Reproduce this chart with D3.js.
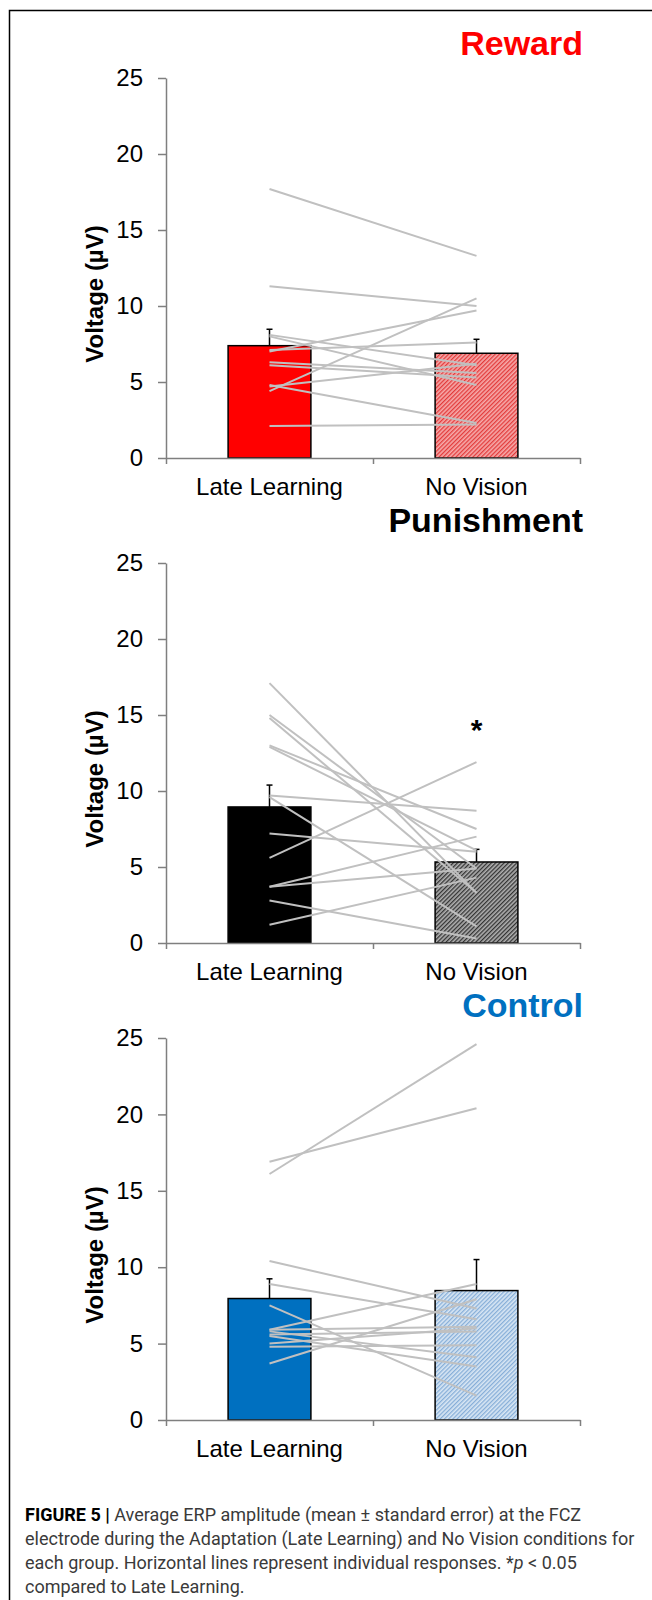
<!DOCTYPE html>
<html>
<head>
<meta charset="utf-8">
<script src="https://cdn.jsdelivr.net/npm/d3@7"></script>
<style>
  body { margin: 0; background: #fff; }
  svg { display: block; }
  .axis path, .axis line { stroke: #7f7f7f; stroke-width: 1.5; }
  .axis text { font-family: "Liberation Sans", Arial, sans-serif; font-size: 24px; fill: #000; }
</style>
</head>
<body>
<script>
// categories and groups
var categories = ["Late Learning", "No Vision"];
var groups = ["Reward", "Punishment", "Control"];
var yTicks = [0, 5, 10, 15, 20, 25];

// group means (uV) and standard errors
var rewardMeans = [7.39, 6.89];
var rewardErrors = [1.08, 0.92];
var punishmentMeans = [8.95, 5.33];
var punishmentErrors = [1.44, 0.83];
var controlMeans = [7.95, 8.47];
var controlErrors = [1.29, 2.03];

// individual responses, Late Learning -> No Vision
var rewardLate     = [17.7, 11.3, 7.0, 4.4, 8.1, 8.0, 7.1, 6.3, 6.1, 4.7, 4.8, 2.1];
var rewardNoVision = [13.3, 10.0, 9.7, 10.5, 6.1, 4.8, 7.6, 5.6, 5.3, 6.2, 2.3, 2.2];
var punishmentLate     = [17.1, 15.0, 14.8, 13.0, 12.9, 9.7, 9.6, 7.2, 5.6, 3.7, 3.7, 2.8, 1.2];
var punishmentNoVision = [3.3, 4.9, 3.3, 7.5, 6.1, 8.7, 1.1, 6.0, 11.9, 7.0, 4.9, 0.3, 4.3];
var controlLate     = [16.1, 16.9, 10.4, 8.9, 7.5, 3.7, 5.9, 5.9, 5.8, 5.6, 5.5, 5.0, 4.8];
var controlNoVision = [24.6, 20.4, 7.3, 6.6, 1.6, 7.9, 8.9, 6.1, 4.1, 5.8, 3.5, 6.0, 4.9];
var significant = [false, true, false];

var panels = [
  {name: groups[0], color: "#ff0000", hatch: ["#f6aaaa", "#e23b3b"], means: rewardMeans, errors: rewardErrors, late: rewardLate, nv: rewardNoVision},
  {name: groups[1], color: "#000000", hatch: ["#b0b0b0", "#333333"], means: punishmentMeans, errors: punishmentErrors, late: punishmentLate, nv: punishmentNoVision},
  {name: groups[2], color: "#0070c0", hatch: ["#d9e7f4", "#86aed8"], means: controlMeans, errors: controlErrors, late: controlLate, nv: controlNoVision}
];

var W = 652, H = 1600;
var svg = d3.select("body").append("svg").attr("width", W).attr("height", H);

// layout
var tops = [78, 563, 1038], bottoms = [458, 943, 1420];
var titleY = [55, 532, 1017];
var titleColor = ["#ff0000", "#000000", "#0070c0"];
var x0 = 166, x1 = 580;

// frame
svg.append("path").attr("d", "M9.5," + H + "V10.5H" + W)
   .attr("fill", "none").attr("stroke", "#000").attr("stroke-width", 1.5);

var defs = svg.append("defs");

panels.forEach(function(p, i) {
  var pat = defs.append("pattern").attr("id", "hatch" + i)
      .attr("patternUnits", "userSpaceOnUse").attr("width", 3).attr("height", 3)
      .attr("patternTransform", "rotate(45)");
  pat.append("rect").attr("width", 3).attr("height", 3).attr("fill", p.hatch[0]);
  pat.append("rect").attr("width", 1.3).attr("height", 3).attr("fill", p.hatch[1]);

  var y = d3.scaleLinear().domain([0, 25]).range([bottoms[i], tops[i]]);
  var x = d3.scaleBand().domain(categories).range([x0, x1]);
  var bw = x.bandwidth() * 0.4;
  var cx = function(c) { return x(c) + x.bandwidth() / 2; };

  var g = svg.append("g").attr("class", "panel" + i);

  // bars
  g.selectAll("rect.bar").data(categories).enter().append("rect")
    .attr("class", "bar")
    .attr("x", function(c) { return cx(c) - bw / 2; })
    .attr("width", bw)
    .attr("y", function(c, j) { return y(p.means[j]); })
    .attr("height", function(c, j) { return y(0) - y(p.means[j]); })
    .attr("fill", function(c, j) { return j === 0 ? p.color : "url(#hatch" + i + ")"; })
    .attr("stroke", "#000").attr("stroke-width", 1.5);

  // error bars
  var eb = g.selectAll("g.err").data(categories).enter().append("g").attr("class", "err");
  eb.append("line")
    .attr("x1", cx).attr("x2", cx)
    .attr("y1", function(c, j) { return y(p.means[j]); })
    .attr("y2", function(c, j) { return y(p.means[j] + p.errors[j]); })
    .attr("stroke", "#000").attr("stroke-width", 1.5);
  eb.append("line")
    .attr("x1", function(c) { return cx(c) - 3; }).attr("x2", function(c) { return cx(c) + 3; })
    .attr("y1", function(c, j) { return y(p.means[j] + p.errors[j]); })
    .attr("y2", function(c, j) { return y(p.means[j] + p.errors[j]); })
    .attr("stroke", "#000").attr("stroke-width", 1.5);

  // individual lines
  var line = d3.line().x(function(d) { return cx(d.c); }).y(function(d) { return y(d.v); });
  var pairs = p.late.map(function(v, k) {
    return [{c: categories[0], v: v}, {c: categories[1], v: p.nv[k]}];
  });
  g.selectAll("path.indiv").data(pairs).enter().append("path")
    .attr("class", "indiv")
    .attr("d", line)
    .attr("fill", "none").attr("stroke", "#c0c0c0").attr("stroke-width", 2);

  // y axis
  g.append("g").attr("class", "axis").attr("transform", "translate(" + x0 + ",0)")
    .call(d3.axisLeft(y).tickValues(yTicks).tickSize(8).tickSizeOuter(0).tickPadding(15));

  // x axis with boundary ticks
  var xb = d3.scaleLinear().domain([0, 2]).range([x0, x1]);
  g.append("g").attr("class", "axis").attr("transform", "translate(0," + y(0) + ")")
    .call(d3.axisBottom(xb).tickValues([0, 1, 2]).tickSize(6).tickSizeOuter(0).tickFormat(""));
  var xa = g.append("g").attr("class", "axis").attr("transform", "translate(0," + y(0) + ")")
    .call(d3.axisBottom(x).tickSize(0).tickPadding(20));
  xa.select(".domain").remove();
  xa.selectAll("text").attr("font-size", 25);

  // y label
  g.append("text")
    .attr("transform", "translate(97," + ((tops[i] + bottoms[i]) / 2 + 26) + ") rotate(-90)")
    .attr("text-anchor", "middle").attr("dominant-baseline", "middle")
    .attr("font-family", "Liberation Sans, Arial, sans-serif")
    .attr("font-weight", "bold").attr("font-size", 24)
    .text("Voltage (µV)");

  // group title
  g.append("text").attr("x", 583).attr("y", titleY[i])
    .attr("text-anchor", "end")
    .attr("font-family", "Liberation Sans, Arial, sans-serif")
    .attr("font-weight", "bold").attr("font-size", 34)
    .attr("fill", titleColor[i])
    .text(p.name);

  if (significant[i]) {
    g.append("text").attr("x", cx(categories[1])).attr("y", y(14.5))
      .attr("text-anchor", "middle").attr("dominant-baseline", "middle")
      .attr("font-family", "Liberation Sans, Arial, sans-serif")
      .attr("font-weight", "bold").attr("font-size", 30)
      .attr("dy", "0.3em")
      .text("*");
  }
});

// caption
var cap = svg.append("g")
  .attr("font-family", "Liberation Sans Narrow, Roboto, sans-serif")
  .attr("font-size", 18).attr("fill", "#3a3a3a");
var l1 = cap.append("text").attr("x", 25).attr("y", 1521);
l1.append("tspan").attr("font-weight", "bold").attr("fill", "#000").text("FIGURE 5 | ");
l1.append("tspan").text("Average ERP amplitude (mean ± standard error) at the FCZ");
cap.append("text").attr("x", 25).attr("y", 1545)
  .text("electrode during the Adaptation (Late Learning) and No Vision conditions for");
var l3 = cap.append("text").attr("x", 25).attr("y", 1569);
l3.append("tspan").text("each group. Horizontal lines represent individual responses. *");
l3.append("tspan").attr("font-style", "italic").text("p");
l3.append("tspan").text(" < 0.05");
cap.append("text").attr("x", 25).attr("y", 1593).text("compared to Late Learning.");
</script>
</body>
</html>
